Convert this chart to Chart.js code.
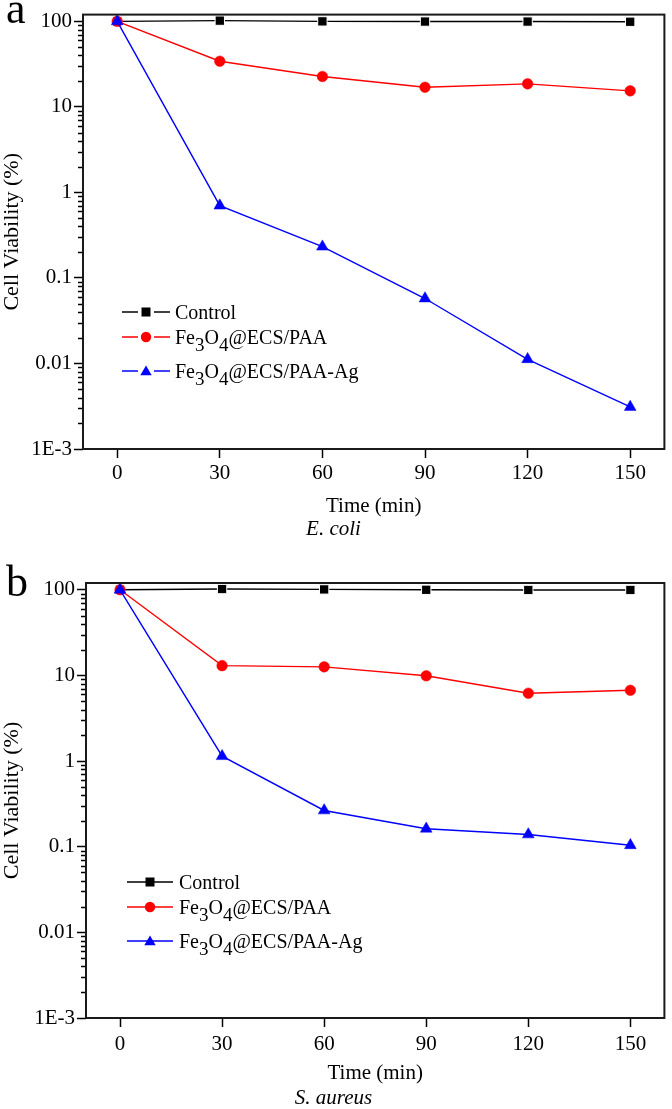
<!DOCTYPE html>
<html><head><meta charset="utf-8">
<script src="https://cdn.jsdelivr.net/npm/chart.js@4.4.1/dist/chart.umd.min.js"></script>
<style>
html,body{margin:0;padding:0;background:#fff;}
body{width:672px;height:1109px;position:relative;overflow:hidden;font-family:"Liberation Serif","Times New Roman",serif;color:#000;}
.panel{position:absolute;left:0;width:672px;}
#pa{top:0;height:540px;}
#pb{top:540px;height:569px;}
canvas{position:absolute;left:0;top:0;}
.letter{position:absolute;font-size:44px;line-height:44px;}
.row{position:absolute;white-space:nowrap;height:24px;line-height:24px;font-size:20px;}
.row svg{position:absolute;left:0;top:5px;}
.row .t{position:absolute;top:0;}
sub{font-size:19px;vertical-align:-7px;line-height:0;}
</style></head>
<body>
<div class="panel" id="pa"><canvas id="ca" width="672" height="540"></canvas><div class="letter" style="left:6px;top:-13px">a</div></div>
<div class="panel" id="pb"><canvas id="cb" width="672" height="569"></canvas><div class="letter" style="left:6px;top:20px">b</div></div>
<script>
// ---- data ----
const times = [0, 30, 60, 90, 120, 150];
const xTickValues = [0, 30, 60, 90, 120, 150];
const yTickValues = [0.001, 0.01, 0.1, 1, 10, 100];
const yTickLabels = ['1E-3', '0.01', '0.1', '1', '10', '100'];
const seriesNames = ['Control', 'Fe\u2083O\u2084@ECS/PAA', 'Fe\u2083O\u2084@ECS/PAA-Ag'];
const legendHtml = ['Control', 'Fe<sub>3</sub>O<sub>4</sub>@ECS/PAA', 'Fe<sub>3</sub>O<sub>4</sub>@ECS/PAA-Ag'];
// panel a: E. coli
const ecoliControl = [100, 102, 100, 99.5, 99.5, 99];
const ecoliPAA     = [100, 34.2, 22.7, 17.0, 18.6, 15.4];
const ecoliPAAAg   = [100, 0.70, 0.232, 0.0575, 0.0112, 0.0031];
// panel b: S. aureus
const saureusControl = [100, 102, 101, 100, 99.5, 99.5];
const saureusPAA     = [100, 13.0, 12.6, 9.9, 6.2, 6.7];
const saureusPAAAg   = [100, 1.14, 0.265, 0.162, 0.139, 0.104];

const colors = ['#000000', '#ff0000', '#0000ff'];
const styles = ['rect', 'circle', 'triangle'];
const radii = [6.6, 5.3, 6.8];
const FONT = '"Liberation Serif","Times New Roman",serif';

const framePlugin = {
  id: 'frame',
  afterDraw(chart) {
    const {ctx, chartArea: a, scales} = chart;
    const y = scales.y;
    ctx.save();
    ctx.strokeStyle = '#000';
    ctx.lineWidth = 1.3;
    ctx.beginPath();
    for (let e = -3; e < 2; e++) {
      for (let m = 2; m < 10; m++) {
        const v = m * Math.pow(10, e);
        const py = Math.round(y.getPixelForValue(v)) + 0.5;
        ctx.moveTo(a.left - 5, py);
        ctx.lineTo(a.left, py);
      }
    }
    ctx.stroke();
    ctx.lineWidth = 2;
    ctx.strokeStyle = '#1a1a1a';
    ctx.strokeRect(a.left, a.top, a.right - a.left, a.bottom - a.top);
    ctx.restore();
  }
};

function makeChart(id, values, cfg) {
  const datasets = seriesNames.map((name, i) => ({
    label: name,
    data: times.map((t, j) => ({x: t, y: values[i][j]})),
    borderColor: colors[i],
    backgroundColor: colors[i],
    pointBackgroundColor: colors[i],
    pointBorderColor: i === 0 ? '#ffffff' : colors[i],
    pointBorderWidth: i === 0 ? 1 : 0.5,
    pointStyle: styles[i],
    pointRadius: radii[i],
    borderWidth: 1.4,
    tension: 0,
    order: 3 - i,
    clip: false
  }));
  const tickFont = {family: FONT, size: 21};
  return new Chart(document.getElementById(id), {
    type: 'line',
    data: {datasets},
    options: {
      responsive: false,
      animation: false,
      devicePixelRatio: 1,
      layout: {padding: {top: cfg.padTop, right: 5, bottom: cfg.padBottom, left: 0}},
      plugins: {
        legend: {display: false},
        tooltip: {enabled: false},
        title: {
          display: true, position: 'bottom', text: cfg.species, color: '#000',
          font: {family: FONT, size: 21, style: 'italic', weight: 'normal', lineHeight: 1},
          padding: {top: 0, bottom: cfg.titlePadBottom}
        }
      },
      scales: {
        x: {
          type: 'linear', min: -10, max: 160,
          afterBuildTicks: s => { s.ticks = xTickValues.map(v => ({value: v})); },
          afterFit: s => { s.height = 70; },
          grid: {drawOnChartArea: false, tickLength: 9, tickColor: '#000', tickWidth: 1.5},
          border: {display: false},
          ticks: {font: tickFont, color: '#000', padding: cfg.xTickPad, maxRotation: 0, autoSkip: false},
          title: {display: true, text: 'Time (min)', color: '#000', font: {family: FONT, size: 21, lineHeight: 1.2}, padding: {top: 0, bottom: cfg.xTitlePad}}
        },
        y: {
          type: 'logarithmic', min: 0.001, max: 120,
          afterBuildTicks: s => { s.ticks = yTickValues.map(v => ({value: v, major: true})); },
          afterFit: s => { s.width = cfg.yWidth; },
          grid: {drawOnChartArea: false, tickLength: 9, tickColor: '#000', tickWidth: 1.5},
          border: {display: false},
          ticks: {
            font: tickFont, color: '#000', padding: 2, autoSkip: false,
            callback: (v) => { const k = yTickValues.findIndex(t => Math.abs(t - v) / t < 1e-6); return k >= 0 ? yTickLabels[k] : ''; }
          },
          title: {display: true, text: 'Cell Viability (%)', color: '#000', font: {family: FONT, size: 22, lineHeight: 1.1}, padding: 0}
        }
      }
    },
    plugins: [framePlugin]
  });
}

function markerSvg(i, w, gap) {
  const c = colors[i];
  const mid = w / 2;
  let line;
  if (gap) {
    line = `<line x1="0" y1="7" x2="${mid - 8}" y2="7" stroke="${c}" stroke-width="1.5"/><line x1="${mid + 8}" y1="7" x2="${w}" y2="7" stroke="${c}" stroke-width="1.5"/>`;
  } else {
    line = `<line x1="0" y1="7" x2="${w}" y2="7" stroke="${c}" stroke-width="1.5"/>`;
  }
  let m;
  if (styles[i] === 'rect') m = `<rect x="${mid - 4.5}" y="2.5" width="9" height="9" fill="${c}"/>`;
  else if (styles[i] === 'circle') m = `<circle cx="${mid}" cy="7" r="5.2" fill="${c}"/>`;
  else m = `<polygon points="${mid},1.5 ${mid + 5.7},11.3 ${mid - 5.7},11.3" fill="${c}"/>`;
  return `<svg width="${w}" height="14" viewBox="0 0 ${w} 14">${line}${m}</svg>`;
}

function buildLegend(panelId, left, rowsY, lineW, textX, gap) {
  const p = document.getElementById(panelId);
  legendHtml.forEach((h, i) => {
    const r = document.createElement('div');
    r.className = 'row';
    r.style.left = left + 'px';
    r.style.top = (rowsY[i] - 12) + 'px';
    r.innerHTML = markerSvg(i, lineW, gap) + `<span class="t" style="left:${textX}px">${h}</span>`;
    p.appendChild(r);
  });
}

makeChart('ca', [ecoliControl, ecoliPAA, ecoliPAAAg],
  {species: 'E. coli', padTop: 14, padBottom: 0, titlePadBottom: 0, xTitlePad: 0, xTickPad: 3, yWidth: 83});
makeChart('cb', [saureusControl, saureusPAA, saureusPAAAg],
  {species: 'S. aureus', padTop: 43, padBottom: 0, titlePadBottom: 0, xTitlePad: 2, xTickPad: 5, yWidth: 86});

buildLegend('pa', 122, [312, 337, 371], 48, 53, true);
buildLegend('pb', 127, [882 - 540, 907 - 540, 941 - 540], 46, 52, false);
</script>
</body></html>
